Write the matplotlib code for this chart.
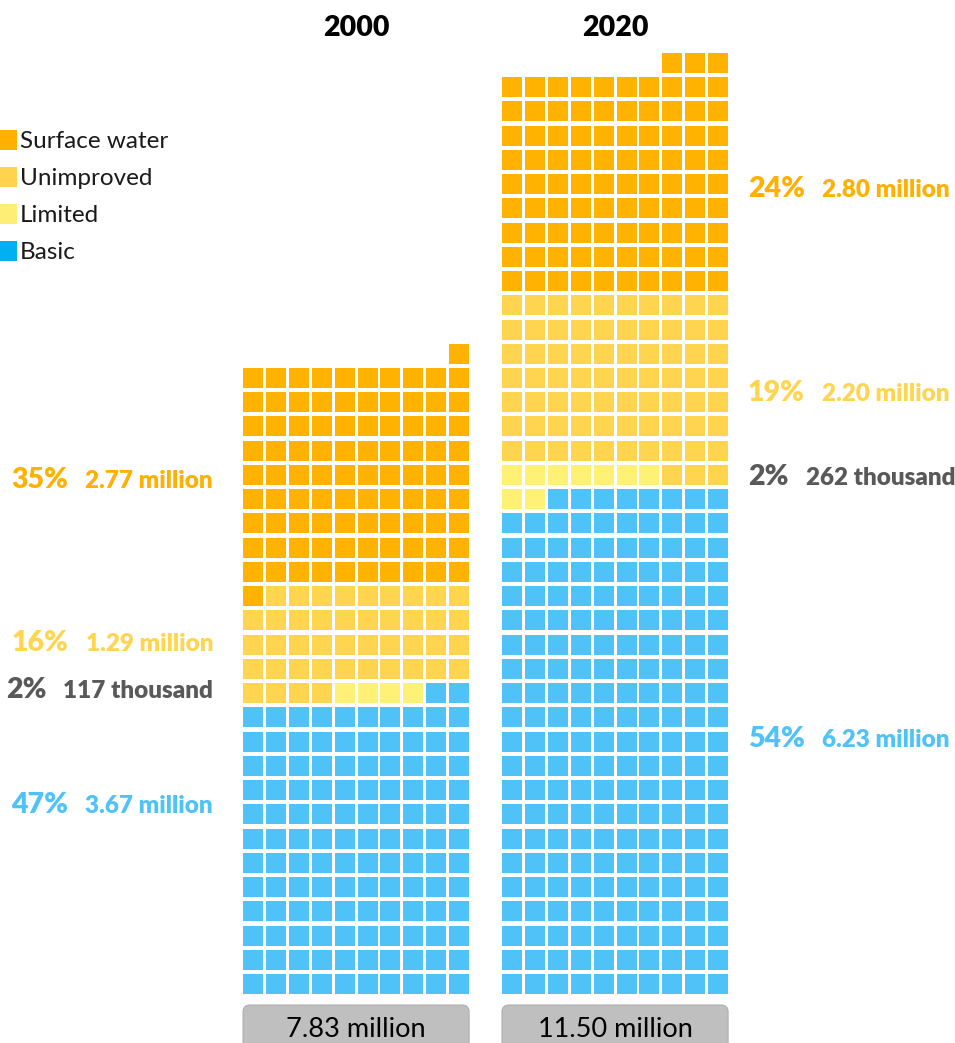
import matplotlib
matplotlib.use("Agg")
import matplotlib.pyplot as plt
from matplotlib.patches import Rectangle, FancyBboxPatch

plt.rcParams["font.family"] = ["Lato", "DejaVu Sans"]

# --- data -------------------------------------------------------------
years = ["2000", "2020"]
categories = ["Basic", "Limited", "Unimproved", "Surface water"]
# population in millions, bottom-to-top stacking order
pop_2000 = [3.67, 0.117, 1.29, 2.77]
pop_2020 = [6.23, 0.262, 2.20, 2.80]
pct_2000 = [47, 2, 16, 35]
pct_2020 = [54, 2, 19, 24]
totals = [7.83, 11.50]
people_per_cell = 0.03  # 30 thousand people per square

legend_order = ["Surface water", "Unimproved", "Limited", "Basic"]

# --- styling ----------------------------------------------------------
cell_colors = {"Basic": "#4FC3F7", "Limited": "#FFF176",
               "Unimproved": "#FFD54F", "Surface water": "#FFB300"}
legend_colors = {"Basic": "#00B0F0", "Limited": "#FFEE75",
                 "Unimproved": "#FFD34E", "Surface water": "#FFB000"}
text_colors = {"Basic": "#4FC3F7", "Limited": "#595959",
               "Unimproved": "#FFD54F", "Surface water": "#FFB000"}

W, H = 955, 1043
ncols = 10
col_pitch, row_pitch = 22.9, 24.24
cell_w, cell_h = 20, 20
grid_bottom = 994
grid_left = [243, 502]
# text baselines for the side labels
label_y = {"2000": [813, 698, 651, 488], "2020": [747, 485, 401, 197]}


def fmt_pop(v):
    if v < 1:
        return f"{v * 1000:.0f} thousand"
    return f"{v:.2f} million"


fig = plt.figure(figsize=(W / 100, H / 100), dpi=100)
ax = fig.add_axes([0, 0, 1, 1])
ax.set_xlim(0, W)
ax.set_ylim(H, 0)
ax.axis("off")


def draw_waffle(x0, pops):
    counts = [round(p / people_per_cell) for p in pops]
    k = 0
    for cat, n in zip(categories, counts):
        for _ in range(n):
            row, pos = divmod(k, ncols)
            # snake fill: even rows run right-to-left, odd rows left-to-right
            col = ncols - 1 - pos if row % 2 == 0 else pos
            x = x0 + col * col_pitch
            y = grid_bottom - row * row_pitch - cell_h
            ax.add_patch(Rectangle((x, y), cell_w, cell_h,
                                   facecolor=cell_colors[cat], edgecolor="none"))
            k += 1
    return counts


grid_w = (ncols - 1) * col_pitch + cell_w
for year, x0, pops, total in zip(years, grid_left, [pop_2000, pop_2020], totals):
    draw_waffle(x0, pops)
    cx = x0 + grid_w / 2
    ax.text(cx, 36, year, ha="center", va="baseline", fontsize=20.5,
            fontweight="heavy", color="black")
    box = FancyBboxPatch((x0, 1005), grid_w, 60,
                         boxstyle="round,pad=0,rounding_size=7",
                         facecolor="#BFBFBF", edgecolor="#AFAFAF", lw=0.8)
    ax.add_patch(box)
    ax.text(cx, 1037, f"{total:.2f} million", ha="center", va="baseline",
            fontsize=19.5, color="black")

# --- side labels ------------------------------------------------------
fig.canvas.draw()
renderer = fig.canvas.get_renderer()
inv = ax.transData.inverted()

# 2000: labels right-aligned to the left of the grid
for cat, p, pc, y in zip(categories, pop_2000, pct_2000, label_y["2000"]):
    c = text_colors[cat]
    t = ax.text(213, y, fmt_pop(p), ha="right", va="baseline", fontsize=17.5,
                fontweight="heavy", color=c)
    bb = t.get_window_extent(renderer)
    left = inv.transform((bb.x0, bb.y0))[0]
    ax.text(left - 17, y, f"{pc}%", ha="right", va="baseline", fontsize=20.5,
            fontweight="heavy", color=c)

# 2020: labels left-aligned to the right of the grid
for cat, p, pc, y in zip(categories, pop_2020, pct_2020, label_y["2020"]):
    c = text_colors[cat]
    t = ax.text(748, y, f"{pc}%", ha="left", va="baseline", fontsize=20.5,
                fontweight="heavy", color=c)
    bb = t.get_window_extent(renderer)
    right = inv.transform((bb.x1, bb.y0))[0]
    ax.text(right + 17, y, fmt_pop(p), ha="left", va="baseline", fontsize=17.5,
            fontweight="heavy", color=c)

# --- legend -----------------------------------------------------------
for i, cat in enumerate(legend_order):
    y = 140 + i * 37
    ax.add_patch(Rectangle((-3, y - 10), 20, 20, facecolor=legend_colors[cat],
                           edgecolor="none"))
    ax.text(20, y + 8, cat, ha="left", va="baseline", fontsize=17.5,
            color="#1A1A1A")

fig.savefig("out.png", dpi=100)
